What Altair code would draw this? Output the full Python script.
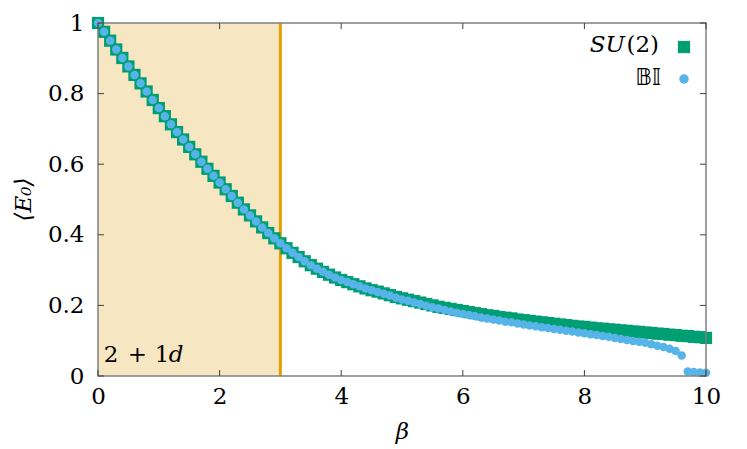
import altair as alt
import pandas as pd

beta = [0.0, 0.1, 0.2, 0.3, 0.4, 0.5, 0.6, 0.7, 0.8, 0.9,
        1.0, 1.1, 1.2, 1.3, 1.4, 1.5, 1.6, 1.7, 1.8, 1.9,
        2.0, 2.1, 2.2, 2.3, 2.4, 2.5, 2.6, 2.7, 2.8, 2.9,
        3.0, 3.1, 3.2, 3.3, 3.4, 3.5, 3.6, 3.7, 3.8, 3.9,
        4.0, 4.1, 4.2, 4.3, 4.4, 4.5, 4.6, 4.7, 4.8, 4.9,
        5.0, 5.1, 5.2, 5.3, 5.4, 5.5, 5.6, 5.7, 5.8, 5.9,
        6.0, 6.1, 6.2, 6.3, 6.4, 6.5, 6.6, 6.7, 6.8, 6.9,
        7.0, 7.1, 7.2, 7.3, 7.4, 7.5, 7.6, 7.7, 7.8, 7.9,
        8.0, 8.1, 8.2, 8.3, 8.4, 8.5, 8.6, 8.7, 8.8, 8.9,
        9.0, 9.1, 9.2, 9.3, 9.4, 9.5, 9.6, 9.7, 9.8, 9.9, 10.0]

su2 = [1.000, 0.975, 0.950, 0.925, 0.901, 0.877, 0.853, 0.829, 0.806, 0.782,
       0.759, 0.736, 0.713, 0.691, 0.670, 0.649, 0.628, 0.607, 0.587, 0.567,
       0.548, 0.529, 0.510, 0.491, 0.472, 0.455, 0.438, 0.421, 0.405, 0.390,
       0.376, 0.362, 0.349, 0.337, 0.325, 0.314, 0.304, 0.295, 0.287, 0.279,
       0.272, 0.266, 0.260, 0.254, 0.248, 0.243, 0.239, 0.234, 0.229, 0.224,
       0.220, 0.216, 0.212, 0.208, 0.204, 0.200, 0.196, 0.193, 0.190, 0.187,
       0.184, 0.181, 0.178, 0.175, 0.172, 0.170, 0.167, 0.165, 0.163, 0.160,
       0.158, 0.156, 0.154, 0.152, 0.150, 0.148, 0.146, 0.144, 0.142, 0.140,
       0.139, 0.137, 0.135, 0.134, 0.132, 0.131, 0.129, 0.128, 0.126, 0.125,
       0.123, 0.122, 0.120, 0.119, 0.117, 0.116, 0.114, 0.113, 0.111, 0.110, 0.108]

bi = [1.000, 0.975, 0.950, 0.925, 0.901, 0.877, 0.853, 0.829, 0.806, 0.782,
      0.759, 0.736, 0.713, 0.691, 0.670, 0.649, 0.628, 0.607, 0.587, 0.567,
      0.548, 0.529, 0.510, 0.491, 0.472, 0.455, 0.438, 0.421, 0.405, 0.390,
      0.376, 0.362, 0.349, 0.337, 0.325, 0.314, 0.304, 0.295, 0.287, 0.279,
      0.272, 0.266, 0.260, 0.254, 0.248, 0.243, 0.238, 0.233, 0.228, 0.222,
      0.217, 0.213, 0.208, 0.204, 0.199, 0.195, 0.191, 0.187, 0.183, 0.179,
      0.176, 0.173, 0.170, 0.166, 0.163, 0.160, 0.157, 0.154, 0.152, 0.149,
      0.146, 0.143, 0.141, 0.138, 0.136, 0.133, 0.131, 0.128, 0.126, 0.123,
      0.121, 0.118, 0.116, 0.113, 0.111, 0.108, 0.105, 0.102, 0.099, 0.097,
      0.094, 0.090, 0.086, 0.082, 0.077, 0.071, 0.058, 0.013, 0.011, 0.010, 0.009]

x_ticks = [0, 2, 4, 6, 8, 10]
y_ticks = [0, 0.2, 0.4, 0.6, 0.8, 1]
region_start = [0]
region_end = [3]

W, H = 608, 353
FONT = "DejaVu Serif"
FS = 23

df = pd.DataFrame({"beta": beta, "su2": su2, "bi": bi})
reg = pd.DataFrame({"x0": region_start, "x1": region_end, "y0": [0], "y1": [1]})
one = pd.DataFrame({"a": [0]})

xs = alt.Scale(domain=[0, 10], nice=False, zero=False)
ys = alt.Scale(domain=[0, 1], nice=False, zero=False)

xaxis = alt.Axis(values=x_ticks, format="d", labelFont=FONT, labelFontSize=FS,
                 labelColor="black", ticks=False, domain=False, grid=False,
                 labelPadding=9, labelFlush=False,
                 title="\u03B2", titleFont=FONT, titleFontSize=FS,
                 titleFontStyle="italic", titleFontWeight="normal", titleColor="black",
                 titleX=W / 2, titleY=55, titleBaseline="middle", titleAlign="center")
yaxis = alt.Axis(values=y_ticks, format="~g", labelFont=FONT, labelFontSize=FS,
                 labelColor="black", ticks=False, domain=False, grid=False,
                 labelPadding=14, labelFlush=False,
                 title="\u27E8E\u2080\u27E9", titleFont=FONT, titleFontSize=FS,
                 titleFontStyle="italic", titleFontWeight="normal", titleColor="black",
                 titleX=-75, titleY=176, titleBaseline="middle", titleAlign="center",
                 titleAngle=270)

shade = alt.Chart(reg).mark_rect(color="#f7e6c2", opacity=1).encode(
    x=alt.X("x0:Q", scale=xs, axis=xaxis), x2="x1:Q",
    y=alt.Y("y0:Q", scale=ys, axis=yaxis), y2="y1:Q")

vline = alt.Chart(reg).mark_rule(color="#e69f00", strokeWidth=3).encode(
    x=alt.X("x1:Q", scale=xs))

green = alt.Chart(df).mark_square(size=150, color="#009e73", opacity=1).encode(
    x=alt.X("beta:Q", scale=xs), y=alt.Y("su2:Q", scale=ys))
blue = alt.Chart(df).mark_circle(size=72, color="#56b4e9", opacity=1).encode(
    x=alt.X("beta:Q", scale=xs), y=alt.Y("bi:Q", scale=ys))

border = alt.Chart(one).mark_rect(fill=None, stroke="#808080", strokeWidth=1.5).encode(
    x=alt.value(0), x2=alt.value(W), y=alt.value(0), y2=alt.value(H))

xt = pd.DataFrame({"t": x_ticks})
yt = pd.DataFrame({"t": y_ticks})
tick_style = dict(color="#404040", thickness=1, size=6, opacity=1)
xt_bot = alt.Chart(xt).mark_tick(orient="vertical", **tick_style).encode(
    x=alt.X("t:Q", scale=xs), y=alt.value(H - 3))
xt_top = alt.Chart(xt).mark_tick(orient="vertical", **tick_style).encode(
    x=alt.X("t:Q", scale=xs), y=alt.value(3))
yt_l = alt.Chart(yt).mark_tick(orient="horizontal", **tick_style).encode(
    y=alt.Y("t:Q", scale=ys), x=alt.value(3))
yt_r = alt.Chart(yt).mark_tick(orient="horizontal", **tick_style).encode(
    y=alt.Y("t:Q", scale=ys), x=alt.value(W - 3))

def txt(s, x, y, align="left", style="normal", size=FS, font=FONT):
    return alt.Chart(one).mark_text(text=s, align=align, baseline="middle",
                                    font=font, fontSize=size, fontStyle=style,
                                    color="black").encode(
        x=alt.value(x), y=alt.value(y))

labels = [
    txt("2", 13, 332, align="center"),
    txt("+", 39.5, 332, align="center"),
    txt("1", 64, 332, align="center"),
    txt("d", 78, 332, align="center", style="italic"),
    txt("(2)", 561, 22, align="right"),
    txt("SU", 527, 22, align="right", style="italic"),
    txt("\U0001D539\U0001D540", 563, 55, align="right", size=23, font="DejaVu Sans"),
]

leg_sq = alt.Chart(one).mark_square(size=150, color="#009e73", opacity=1).encode(
    x=alt.value(586), y=alt.value(24))
leg_ci = alt.Chart(one).mark_circle(size=90, color="#56b4e9", opacity=1).encode(
    x=alt.value(586), y=alt.value(56))

chart = alt.layer(shade, vline, green, blue, border, xt_bot, xt_top, yt_l, yt_r,
                  leg_sq, leg_ci, *labels).properties(
    width=W, height=H,
    autosize=alt.AutoSizeParams(type="none"),
    padding={"left": 90, "top": 15, "right": 33, "bottom": 73},
    background="white",
).configure_view(stroke=None)

chart.save("out.html", embed_options={"renderer": "svg", "actions": False})
